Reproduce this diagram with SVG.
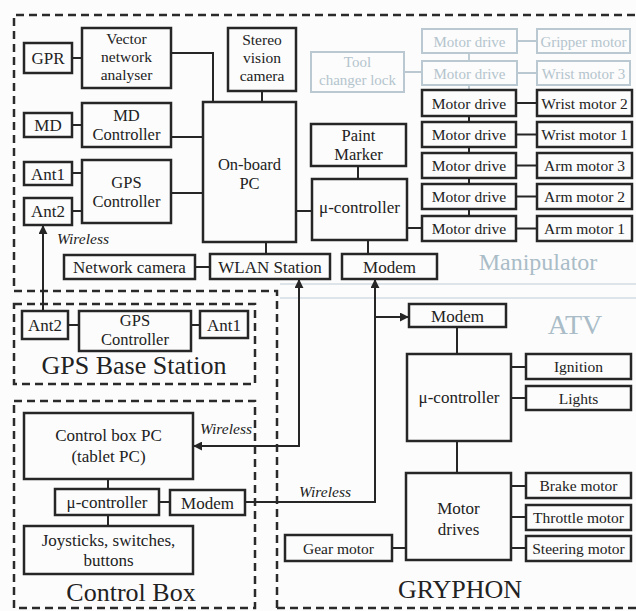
<svg xmlns="http://www.w3.org/2000/svg" width="636" height="611" viewBox="0 0 636 611" font-family="Liberation Serif, Times New Roman, serif">
<defs>
<style>
.b{fill:none;stroke:#262626;stroke-width:2.5}
.g{fill:none;stroke:#b9c8d1;stroke-width:2}
.c{fill:none;stroke:#262626;stroke-width:2}
.cg{fill:none;stroke:#b9c8d1;stroke-width:1.8}
.d{fill:none;stroke:#2a2a2a;stroke-width:2.5;stroke-dasharray:8 5}
.f{stroke:#d3dde3;stroke-width:1.5;fill:none}
text{fill:#222;text-anchor:middle}
.t{font-size:17px}
.t2{font-size:16.5px}
.t3{font-size:15.5px}
.s{font-size:15.5px}
.tg{font-size:15px;fill:#b4c4cd}
.w{font-size:15.5px;font-style:italic;text-anchor:start}
.big{font-size:26px}
.lg{fill:#a9bcc7}
</style>
<marker id="ah" viewBox="0 0 10 10" refX="9" refY="5" markerWidth="9" markerHeight="9" markerUnits="userSpaceOnUse" orient="auto-start-reverse">
<path d="M0,0 L10,5 L0,10 z" fill="#262626"/>
</marker>
</defs>
<rect width="636" height="611" fill="#fcfcfc"/>

<g id="regions">
<path class="d" d="M277,608 L277,291 L14,291 L14,15 L636,15"/>
<path class="d" d="M277,608 L636,608"/>
<rect class="d" x="14" y="304" width="241" height="80"/>
<path class="d" d="M14,401 L255,401 L255,608 L14,608 Z"/>
<path class="f" d="M280,284 L636,284 M280,298 L636,298"/>
<text class="big" x="134" y="374">GPS Base Station</text>
<text class="big" x="131" y="601">Control Box</text>
<text class="big" x="460" y="598">GRYPHON</text>
<text class="big lg" x="538" y="270" style="font-size:24px">Manipulator</text>
<text class="big lg" x="575" y="334" style="font-size:28px">ATV</text>
</g>

<g id="connectors">
<path class="c" d="M72,58 H82 M72,125 H82 M72,173 H82 M72,211 H82"/>
<path class="c" d="M171,53 H213 V102 M171,137 H203 M171,193 H203 M262,91 V102"/>
<path class="c" d="M296,211 H312 M358,166 V179 M368,240 V254 M266,242 V254 M195,267 H210 M407,228 H422"/>
<path class="c" d="M469,116 V122 M469,147 V153 M469,178 V184 M469,209 V216"/>
<path class="c" d="M516,103 H537 M516,134.5 H537 M516,165.5 H537 M516,196.5 H537 M516,228.5 H537"/>
<path class="cg" d="M404,72 H422 M517,41 H537 M517,73 H537 M469,53 V61 M469,85 V90"/>
<path class="c" d="M68,325 H79 M191,325 H200"/>
<path class="c" d="M108,479 V489 M108,515 V526 M159,502 H170"/>
<path class="c" d="M457,327 V354 M457,441 V473 M511,367 H526 M511,398 H526 M511,486 H526 M511,517 H526 M511,548 H526 M392,548 H406"/>
<path class="c" d="M43,311 V226" marker-end="url(#ah)"/>
<path class="c" d="M194,446 H299 V280" marker-start="url(#ah)" marker-end="url(#ah)"/>
<path class="c" d="M245,502 H375 V280" marker-end="url(#ah)"/>
<path class="c" d="M375,317 H408" marker-end="url(#ah)"/>
<text class="w" x="57" y="244">Wireless</text>
<text class="w" x="200" y="434">Wireless</text>
<text class="w" x="299" y="497">Wireless</text>
</g>

<g id="gpr"><rect class="b" x="24" y="43" width="48" height="30"/><text class="t" x="48" y="64">GPR</text></g>
<g id="vna"><rect class="b" x="82" y="28" width="89" height="60"/><text class="t3" x="126.5" y="44">Vector</text><text class="t3" x="126.5" y="62">network</text><text class="t3" x="126.5" y="80">analyser</text></g>
<g id="md"><rect class="b" x="24" y="113" width="48" height="24"/><text class="t" x="48" y="131">MD</text></g>
<g id="mdctrl"><rect class="b" x="82" y="103" width="89" height="44"/><text class="t2" x="126.5" y="121">MD</text><text class="t2" x="126.5" y="140">Controller</text></g>
<g id="ant1"><rect class="b" x="24" y="162" width="48" height="23"/><text class="t" x="48" y="180">Ant1</text></g>
<g id="gpsctrl"><rect class="b" x="82" y="160" width="89" height="63"/><text class="t2" x="126.5" y="188">GPS</text><text class="t2" x="126.5" y="207">Controller</text></g>
<g id="ant2"><rect class="b" x="24" y="198" width="48" height="27"/><text class="t" x="48" y="217">Ant2</text></g>
<g id="stereo"><rect class="b" x="228" y="28" width="68" height="63"/><text class="t3" x="262" y="45">Stereo</text><text class="t3" x="262" y="63">vision</text><text class="t3" x="262" y="81">camera</text></g>
<g id="pc"><rect class="b" x="203" y="102" width="93" height="140"/><text class="t2" x="249.5" y="170">On-board</text><text class="t2" x="249.5" y="189">PC</text></g>
<g id="paint"><rect class="b" x="311" y="124" width="95" height="42"/><text class="t2" x="358.5" y="141">Paint</text><text class="t2" x="358.5" y="160">Marker</text></g>
<g id="uctrl"><rect class="b" x="312" y="179" width="95" height="61"/><text class="t" x="359.5" y="213">μ-controller</text></g>
<g id="toollock"><rect class="g" x="311" y="52" width="93" height="40"/><text class="tg" x="357.5" y="67">Tool</text><text class="tg" x="357.5" y="85">changer lock</text></g>
<g id="md0"><rect class="g" x="422" y="29" width="95" height="24"/><text class="tg" x="469.5" y="46.5">Motor drive</text></g>
<g id="md00"><rect class="g" x="422" y="61" width="95" height="24"/><text class="tg" x="469.5" y="78.5">Motor drive</text></g>
<g id="gripper"><rect class="g" x="537" y="29" width="93" height="24"/><text class="tg" x="583.5" y="46.5">Gripper motor</text></g>
<g id="wrist3"><rect class="g" x="537" y="61" width="93" height="24"/><text class="tg" x="583.5" y="78.5">Wrist motor 3</text></g>
<g id="md1"><rect class="b" x="422" y="90" width="94" height="26"/><text class="s" x="469" y="108.5">Motor drive</text></g>
<g id="md2"><rect class="b" x="422" y="122" width="94" height="25"/><text class="s" x="469" y="140">Motor drive</text></g>
<g id="md3"><rect class="b" x="422" y="153" width="94" height="25"/><text class="s" x="469" y="171">Motor drive</text></g>
<g id="md4"><rect class="b" x="422" y="184" width="94" height="25"/><text class="s" x="469" y="202">Motor drive</text></g>
<g id="md5"><rect class="b" x="422" y="216" width="94" height="25"/><text class="s" x="469" y="234">Motor drive</text></g>
<g id="wrist2"><rect class="b" x="537" y="90" width="95" height="26"/><text class="s" x="584.5" y="108.5">Wrist motor 2</text></g>
<g id="wrist1"><rect class="b" x="537" y="122" width="95" height="25"/><text class="s" x="584.5" y="140">Wrist motor 1</text></g>
<g id="arm3"><rect class="b" x="537" y="153" width="95" height="25"/><text class="s" x="584.5" y="171">Arm motor 3</text></g>
<g id="arm2"><rect class="b" x="537" y="184" width="95" height="25"/><text class="s" x="584.5" y="202">Arm motor 2</text></g>
<g id="arm1"><rect class="b" x="537" y="216" width="95" height="25"/><text class="s" x="584.5" y="234">Arm motor 1</text></g>
<g id="netcam"><rect class="b" x="64" y="255" width="131" height="24"/><text class="t" x="129.5" y="273">Network camera</text></g>
<g id="wlan"><rect class="b" x="210" y="254" width="120" height="25"/><text class="t" x="270" y="273">WLAN Station</text></g>
<g id="modem1"><rect class="b" x="342" y="254" width="95" height="25"/><text class="t" x="389.5" y="273">Modem</text></g>
<g id="bant2"><rect class="b" x="22" y="311" width="46" height="28"/><text class="t" x="45" y="331">Ant2</text></g>
<g id="bgps"><rect class="b" x="79" y="311" width="112" height="40"/><text class="t2" x="135" y="326">GPS</text><text class="t2" x="135" y="345">Controller</text></g>
<g id="bant1"><rect class="b" x="200" y="311" width="48" height="27"/><text class="t" x="224" y="330.5">Ant1</text></g>
<g id="cbpc"><rect class="b" x="24" y="413" width="169" height="66"/><text class="t" x="108.5" y="441">Control box PC</text><text class="t" x="108.5" y="462">(tablet PC)</text></g>
<g id="cbuc"><rect class="b" x="55" y="489" width="104" height="26"/><text class="t" x="107" y="507.5">μ-controller</text></g>
<g id="cbmodem"><rect class="b" x="170" y="490" width="75" height="25"/><text class="t" x="207.5" y="508.5">Modem</text></g>
<g id="joy"><rect class="b" x="24" y="526" width="169" height="48"/><text class="t" x="108.5" y="546">Joysticks, switches,</text><text class="t" x="108.5" y="566">buttons</text></g>
<g id="amodem"><rect class="b" x="409" y="304" width="97" height="23"/><text class="t" x="457.5" y="321.5">Modem</text></g>
<g id="auc"><rect class="b" x="407" y="354" width="104" height="87"/><text class="t" x="459" y="403">μ-controller</text></g>
<g id="ign"><rect class="b" x="526" y="354" width="105" height="25"/><text class="s" x="578.5" y="372">Ignition</text></g>
<g id="lights"><rect class="b" x="526" y="386" width="105" height="24"/><text class="s" x="578.5" y="403.5">Lights</text></g>
<g id="mdrives"><rect class="b" x="406" y="473" width="105" height="87"/><text class="t" x="458.5" y="514">Motor</text><text class="t" x="458.5" y="535">drives</text></g>
<g id="brake"><rect class="b" x="526" y="473" width="105" height="25"/><text class="s" x="578.5" y="491">Brake motor</text></g>
<g id="throttle"><rect class="b" x="526" y="505" width="105" height="25"/><text class="s" x="578.5" y="523">Throttle motor</text></g>
<g id="steering"><rect class="b" x="526" y="536" width="105" height="25"/><text class="s" x="578.5" y="554">Steering motor</text></g>
<g id="gear"><rect class="b" x="285" y="535" width="107" height="26"/><text class="s" x="338.5" y="553.5">Gear motor</text></g>
</svg>
